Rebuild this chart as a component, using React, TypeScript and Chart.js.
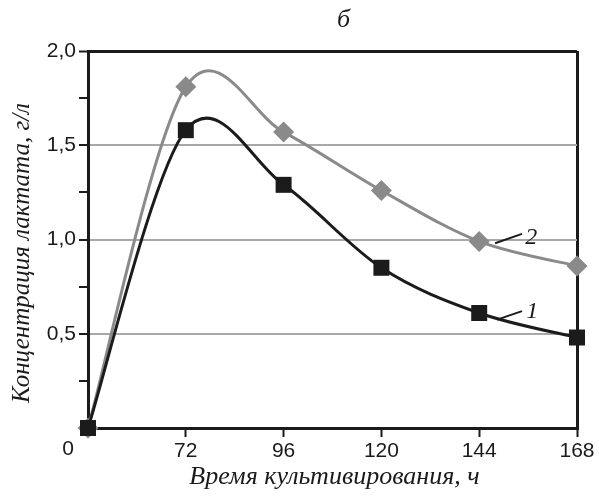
import React, { useEffect, useRef } from "react";
import { Chart, registerables } from "chart.js";

Chart.register(...registerables);

const hours = [48, 72, 96, 120, 144, 168];
const xTickValues = [48, 72, 96, 120, 144, 168];
const series1 = [0, 1.58, 1.29, 0.85, 0.61, 0.48];
const series2 = [0, 1.81, 1.57, 1.26, 0.99, 0.86];
const seriesLabels = ["1", "2"];
const titleText = "б";
const xTitle = "Время культивирования, ч";
const yTitle = "Концентрация лактата, г/л";
const originLabel = "0";

const BLACK = "#1b1b1b";
const GRAY = "#8a8a8a";
const GRID = "#a8a8a8";
const SERIF = "'Liberation Serif', 'DejaVu Serif', serif";
const SANS = "'Liberation Sans', Arial, sans-serif";

// Excel-like smoothing (Catmull-Rom, 1/6 tangents) applied to line control points
const smoothPlugin = {
  id: "smoothPlugin",
  beforeDatasetsDraw(chart: any) {
    chart.getSortedVisibleDatasetMetas().forEach((meta: any) => {
      const pts = meta.data;
      const n = pts.length;
      for (let i = 0; i < n; i++) {
        const p = pts[i];
        const prev = pts[Math.max(0, i - 1)];
        const next = pts[Math.min(n - 1, i + 1)];
        const mx = (next.x - prev.x) / 6;
        const my = (next.y - prev.y) / 6;
        p.cp1x = p.x - mx;
        p.cp1y = p.y - my;
        p.cp2x = p.x + mx;
        p.cp2y = p.y + my;
      }
      if (meta.dataset) {
        meta.dataset._pointsUpdated = true;
        meta.dataset._path = undefined;
      }
    });
  },
};

const textPlugin = {
  id: "textPlugin",
  afterDraw(chart: any) {
    const { ctx, chartArea, scales } = chart;
    const xs = scales.x;
    const ys = scales.y;
    ctx.save();
    ctx.fillStyle = "#1a1a1a";
    ctx.textAlign = "center";
    ctx.textBaseline = "middle";
    ctx.font = "italic 26px " + SERIF;
    ctx.fillText(titleText, (chartArea.left + chartArea.right) / 2 + 11, 20);
    ctx.font = "italic 26px " + SERIF;
    ctx.fillText(xTitle, (chartArea.left + chartArea.right) / 2 + 2, 477);
    ctx.font = "italic 25px " + SERIF;
    ctx.save();
    ctx.translate(22, 253);
    ctx.rotate(-Math.PI / 2);
    ctx.fillText(yTitle, 0, 0);
    ctx.restore();

    ctx.font = "21px " + SANS;
    ctx.textBaseline = "top";
    ctx.fillText(originLabel, chartArea.left - 20, 439);

    const ann = [
      { text: seriesLabels[1], x0: 147.9, y0: 0.98, x1: 154.5, y1: 1.03, tx: 156.8, ty: 1.01 },
      { text: seriesLabels[0], x0: 148.4, y0: 0.575, x1: 154.5, y1: 0.62, tx: 157, ty: 0.615 },
    ];
    ctx.strokeStyle = "#1a1a1a";
    ctx.lineWidth = 2;
    ctx.font = "italic 24px " + SERIF;
    ctx.textBaseline = "middle";
    for (const a of ann) {
      ctx.beginPath();
      ctx.moveTo(xs.getPixelForValue(a.x0), ys.getPixelForValue(a.y0));
      ctx.lineTo(xs.getPixelForValue(a.x1), ys.getPixelForValue(a.y1));
      ctx.stroke();
      ctx.fillText(a.text, xs.getPixelForValue(a.tx), ys.getPixelForValue(a.ty));
    }
    ctx.restore();
  },
};

export default function App() {
  const ref = useRef<HTMLCanvasElement | null>(null);
  useEffect(() => {
    document.body.style.margin = "0";
    const canvas = ref.current;
    if (!canvas) return;
    const chart = new Chart(canvas, {
      type: "line",
      data: {
        datasets: [
          {
            label: seriesLabels[0],
            data: hours.map((h, i) => ({ x: h, y: series1[i] })),
            borderColor: BLACK,
            backgroundColor: BLACK,
            borderWidth: 3,
            pointStyle: "rect",
            pointRadius: 11.3,
            pointBorderWidth: 0,
            tension: 0.4,
            clip: false,
          } as any,
          {
            label: seriesLabels[1],
            data: hours.map((h, i) => ({ x: h, y: series2[i] })),
            borderColor: GRAY,
            backgroundColor: GRAY,
            borderWidth: 3,
            pointStyle: "rectRot",
            pointRadius: 10.5,
            pointBorderWidth: 0,
            tension: 0.4,
            clip: false,
          } as any,
        ],
      },
      options: {
        responsive: false,
        animation: false,
        layout: { padding: { top: 51, right: 22, left: 0, bottom: 0 } },
        plugins: {
          legend: { display: false },
          tooltip: { enabled: false },
        },
        scales: {
          x: {
            type: "linear",
            min: 48,
            max: 168,
            afterBuildTicks: (scale: any) => {
              scale.ticks = xTickValues.map((v) => ({ value: v }));
            },
            afterFit: (scale: any) => {
              scale.height = 70;
            },
            ticks: {
              color: "#1a1a1a",
              font: { family: SANS, size: 21 },
              padding: 2,
              maxRotation: 0,
              autoSkip: false,
              callback: (v: any) => (v === 48 ? "" : String(v)),
            },
            grid: {
              drawOnChartArea: true,
              color: (c: any) => (c.tick && c.tick.value === 168 ? BLACK : "rgba(0,0,0,0)"),
              lineWidth: 3,
              tickColor: (c: any) => (c.tick && c.tick.value === 48 ? "rgba(0,0,0,0)" : BLACK),
              tickLength: 9,
              tickWidth: 2,
            },
            border: { display: true, color: BLACK, width: 3 },
          },
          y: {
            min: 0,
            max: 2,
            afterFit: (scale: any) => {
              scale.width = 88;
            },
            ticks: {
              stepSize: 0.25,
              color: "#1a1a1a",
              font: { family: SANS, size: 21 },
              padding: 3,
              callback: (v: any) => {
                const n = Number(v);
                if (n <= 0) return "";
                if (Math.abs(n * 2 - Math.round(n * 2)) > 1e-6) return "";
                return n.toFixed(1).replace(".", ",");
              },
            },
            grid: {
              color: (c: any) => {
                const v = c.tick ? c.tick.value : 0;
                if (Math.abs(v - 2) < 1e-6) return BLACK;
                if (v > 0 && Math.abs(v * 2 - Math.round(v * 2)) < 1e-6) return GRID;
                return "rgba(0,0,0,0)";
              },
              lineWidth: (c: any) => {
                const v = c.tick ? c.tick.value : 0;
                return Math.abs(v - 2) < 1e-6 ? 3 : 2;
              },
              tickColor: (c: any) => (c.tick && c.tick.value === 0 ? "rgba(0,0,0,0)" : BLACK),
              tickLength: 9,
              tickWidth: 2,
            },
            border: { display: true, color: BLACK, width: 3 },
          },
        },
      },
      plugins: [smoothPlugin, textPlugin],
    });
    return () => chart.destroy();
  }, []);
  return (
    <div style={{ width: 599, height: 498, background: "#fff" }}>
      <canvas ref={ref} width={599} height={498} style={{ display: "block" }} />
    </div>
  );
}
